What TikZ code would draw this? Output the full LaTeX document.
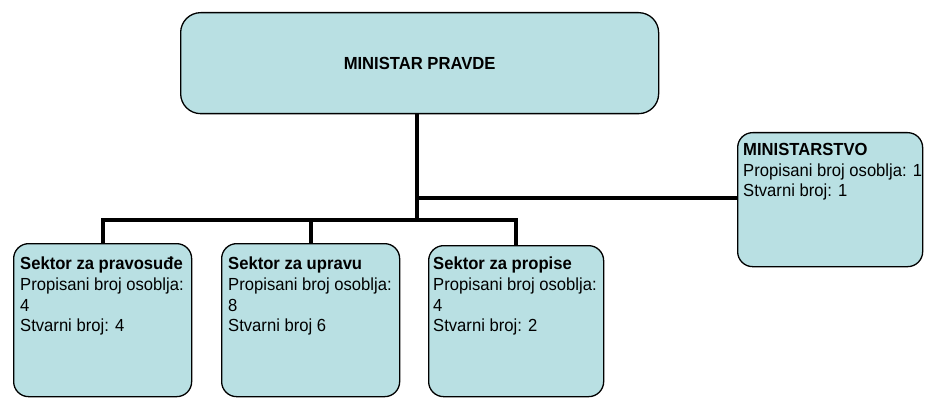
\documentclass[tikz,border=0pt]{standalone}
\usepackage{fontspec}
\setmainfont[FakeStretch=0.95]{Liberation Sans}
\begin{document}
\begin{tikzpicture}[x=1pt,y=-1pt,
  unit/.style={draw=black, line width=1.3pt, fill=boxfill, rounded corners=15pt,
    inner sep=0pt, anchor=north west},
  info/.style={anchor=north west, inner sep=0pt, align=left,
    font=\fontsize{17.5}{20.6}\selectfont},
  link/.style={line width=4pt, line join=miter}]
\definecolor{boxfill}{RGB}{185,224,227}
\useasboundingbox (0,0) rectangle (933,398);

% head of the ministry
\node[unit, rounded corners=20pt, minimum width=478pt, minimum height=101pt,
  font=\bfseries\fontsize{17.5}{20.6}\selectfont] (top) at (180,12) {MINISTAR PRAVDE};

% ministry staff box
\node[unit, minimum width=185pt, minimum height=134pt] (min) at (737,132) {};
\node[info] (mint) at ([shift={(6,11)}]min.north west)
  {\textbf{MINISTARSTVO}\\Propisani broj osoblja: 1\\Stvarni broj: 1};

% sectors
\node[unit, minimum width=178pt, minimum height=153pt] (s1) at (13,243) {};
\node[unit, minimum width=178pt, minimum height=153pt] (s2) at (221,243) {};
\node[unit, minimum width=175pt, minimum height=151pt] (s3) at (428,245) {};

\node[info] (s1t) at ([shift={(7,14)}]s1.north west)
  {\textbf{Sektor za pravosuđe}\\Propisani broj osoblja:\\4\\Stvarni broj: 4};
\node[info] (s2t) at ([shift={(7,14)}]s2.north west)
  {\textbf{Sektor za upravu}\\Propisani broj osoblja:\\8\\Stvarni broj 6};
\node[info] (s3t) at ([shift={(5,12)}]s3.north west)
  {\textbf{Sektor za propise}\\Propisani broj osoblja:\\4\\Stvarni broj: 2};

% connectors
\coordinate (bus) at (417,220);
\coordinate (tap) at (417,198);
\draw[link] (top.south -| bus) -- (bus);
\draw[link] (tap) -- (tap -| min.west);
\draw[link] (s1.north) |- (bus) -| (s3.north);
\draw[link] (s2.north) -- (s2.north |- bus);
\end{tikzpicture}
\end{document}
